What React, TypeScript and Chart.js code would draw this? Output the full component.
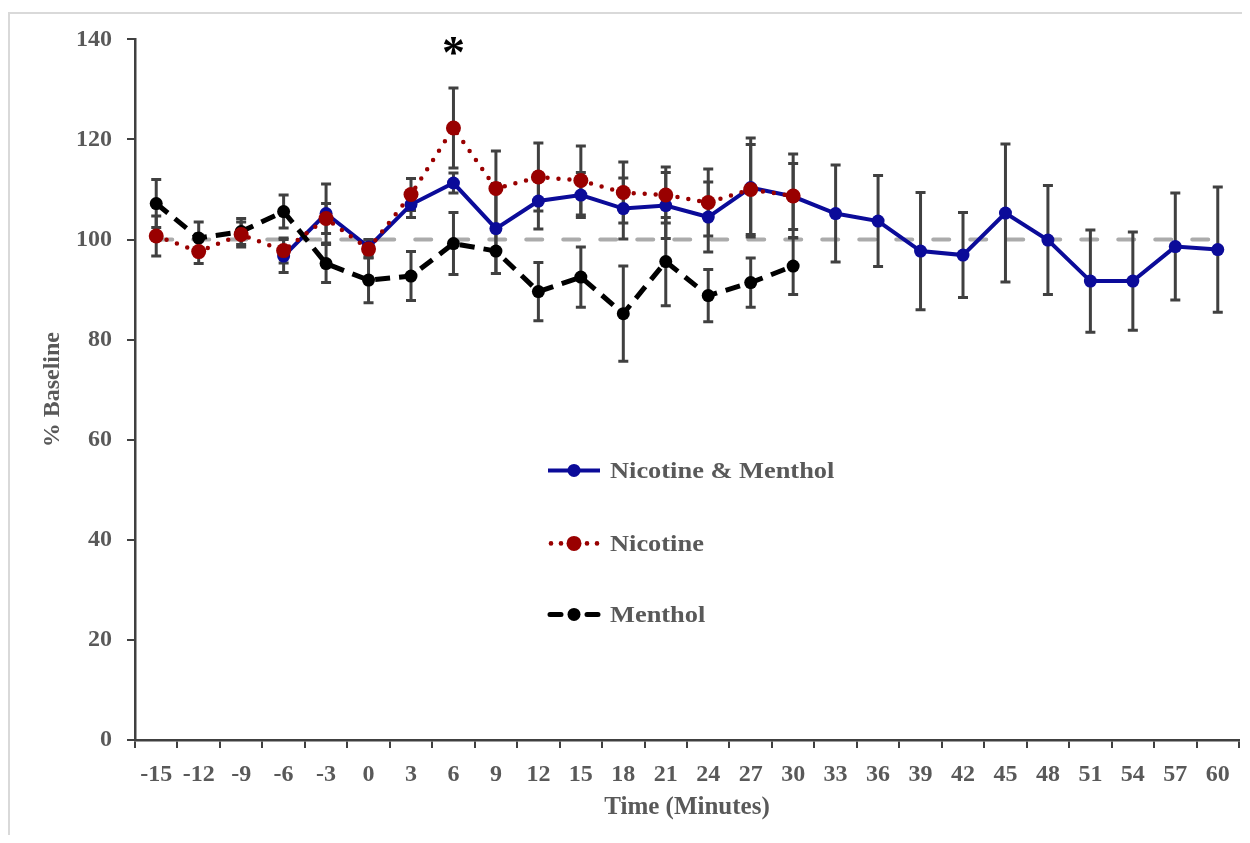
import React, { useEffect, useRef } from "react";
import { Chart, registerables } from "chart.js";

Chart.register(...registerables);

// ---- Data ----
const times = ["-15", "-12", "-9", "-6", "-3", "0", "3", "6", "9", "12", "15", "18", "21", "24", "27", "30", "33", "36", "39", "42", "45", "48", "51", "54", "57", "60"];

const nicMenthol = [null, null, null, 96.7, 105.2, 98.5, 107.0, 111.3, 102.2, 107.7, 108.9, 106.2, 106.8, 104.5, 110.4, 108.6, 105.2, 103.7, 97.7, 96.9, 105.3, 99.9, 91.7, 91.7, 98.6, 98.0];
const nicMentholErr = [null, null, null, 3.3, 5.9, 1.5, 2.6, 2.0, 9.0, 5.6, 4.5, 6.1, 6.6, 7.0, 9.9, 6.6, 9.7, 9.1, 11.7, 8.5, 13.8, 10.9, 10.2, 9.8, 10.7, 12.5];

const nicotine = [100.7, 97.6, 101.0, 97.8, 104.2, 98.1, 109.0, 122.3, 110.2, 112.5, 111.8, 109.4, 108.9, 107.4, 110.0, 108.7, null, null, null, null, null, null, null, null, null, null];
const nicotineErr = [4.0, 2.4, 2.5, 2.5, 3.0, 1.8, 3.2, 8.0, 7.5, 6.8, 6.9, 6.1, 5.6, 6.7, 9.0, 8.4, null, null, null, null, null, null, null, null, null, null];

const menthol = [107.2, 100.3, 101.6, 105.6, 95.2, 91.9, 92.7, 99.2, 97.7, 89.6, 92.5, 85.2, 95.6, 88.8, 91.4, 94.7, null, null, null, null, null, null, null, null, null, null];
const mentholErr = [4.8, 3.2, 2.6, 3.3, 3.8, 4.5, 4.9, 6.2, 4.5, 5.8, 6.0, 9.5, 8.8, 5.2, 4.9, 5.7, null, null, null, null, null, null, null, null, null, null];

const baseline = times.map(() => 100);

const yTicksMin = 0;
const yTicksMax = 140;
const yTicksStep = 20;

const starCategory = "6";
const starValue = 138.5;

const legendLabels = ["Nicotine & Menthol", "Nicotine", "Menthol"];

// ---- Styles ----
const FONT = '"Liberation Serif", "Times New Roman", serif';
const TEXT_GRAY = "#595959";
const AXIS_GRAY = "#404040";
const BLUE = "#0B0B99";
const RED = "#990000";
const BLACK = "#000000";

const errorBarPlugin = {
  id: "errorBars",
  afterDatasetDraw(chart: any, args: any) {
    if (args.index !== 3) return;
    const ctx = chart.ctx;
    const xs = chart.scales.x;
    const ys = chart.scales.y;
    ctx.save();
    ctx.strokeStyle = AXIS_GRAY;
    ctx.lineWidth = 3;
    chart.data.datasets.forEach((ds: any) => {
      const errs = ds.errors;
      if (!errs) return;
      ds.data.forEach((v: any, i: number) => {
        if (v == null || errs[i] == null) return;
        const px = xs.getPixelForValue(i);
        const yTop = ys.getPixelForValue(v + errs[i]);
        const yBot = ys.getPixelForValue(v - errs[i]);
        ctx.beginPath();
        ctx.moveTo(px, yTop);
        ctx.lineTo(px, yBot);
        ctx.moveTo(px - 5, yTop);
        ctx.lineTo(px + 5, yTop);
        ctx.moveTo(px - 5, yBot);
        ctx.lineTo(px + 5, yBot);
        ctx.stroke();
      });
    });
    ctx.restore();
  },
};

const annotationPlugin = {
  id: "annot",
  afterDraw(chart: any) {
    const ctx = chart.ctx;
    const xs = chart.scales.x;
    const ys = chart.scales.y;
    const area = chart.chartArea;
    ctx.save();
    // asterisk
    ctx.fillStyle = "#000";
    ctx.font = `bold 46px ${FONT}`;
    ctx.textAlign = "center";
    ctx.textBaseline = "middle";
    ctx.fillText("*", xs.getPixelForValue(times.indexOf(starCategory)), ys.getPixelForValue(starValue) + 9);

    // legend
    const lx0 = area.left + 413;
    const lx1 = lx0 + 52;
    const cx = (lx0 + lx1) / 2;
    const rows = [area.top + 431, area.top + 504, area.top + 575];
    const colors = [BLUE, RED, BLACK];
    rows.forEach((ry, k) => {
      ctx.strokeStyle = colors[k];
      ctx.fillStyle = colors[k];
      if (k === 0) {
        ctx.lineWidth = 4;
        ctx.beginPath();
        ctx.moveTo(lx0, ry);
        ctx.lineTo(lx1, ry);
        ctx.stroke();
      } else if (k === 1) {
        [lx0 + 3, lx0 + 13, lx1 - 13, lx1 - 3].forEach((dx) => {
          ctx.beginPath();
          ctx.arc(dx, ry, 2.3, 0, Math.PI * 2);
          ctx.fill();
        });
      } else {
        ctx.lineWidth = 5;
        ctx.lineCap = "round";
        ctx.beginPath();
        ctx.moveTo(lx0 + 2, ry);
        ctx.lineTo(lx0 + 13, ry);
        ctx.moveTo(lx1 - 13, ry);
        ctx.lineTo(lx1 - 2, ry);
        ctx.stroke();
        ctx.lineCap = "butt";
      }
      ctx.beginPath();
      ctx.arc(cx, ry, k === 1 ? 7.5 : 6.5, 0, Math.PI * 2);
      ctx.fill();
      ctx.save();
      ctx.translate(lx1 + 10, ry);
      ctx.scale(1.1, 1);
      ctx.fillStyle = TEXT_GRAY;
      ctx.font = `bold 24px ${FONT}`;
      ctx.textAlign = "left";
      ctx.textBaseline = "middle";
      ctx.fillText(legendLabels[k], 0, 1);
      ctx.restore();
    });
    ctx.restore();
  },
};

export default function App() {
  const ref = useRef<HTMLCanvasElement | null>(null);
  useEffect(() => {
    if (!ref.current) return;
    const chart = new Chart(ref.current, {
      type: "line",
      data: {
        labels: times,
        datasets: [
          {
            label: legendLabels[1],
            data: nicotine,
            errors: nicotineErr,
            borderColor: RED,
            backgroundColor: RED,
            borderWidth: 4.5,
            borderDash: [0, 11],
            borderCapStyle: "round",
            pointRadius: 7.5,
            pointBorderWidth: 0,
            pointBackgroundColor: RED,
            tension: 0,
          } as any,
          {
            label: legendLabels[2],
            data: menthol,
            errors: mentholErr,
            borderColor: BLACK,
            backgroundColor: BLACK,
            borderWidth: 5,
            borderDash: [15, 9],
            pointRadius: 6.5,
            pointBorderWidth: 0,
            pointBackgroundColor: BLACK,
            tension: 0,
          } as any,
          {
            label: legendLabels[0],
            data: nicMenthol,
            errors: nicMentholErr,
            borderColor: BLUE,
            backgroundColor: BLUE,
            borderWidth: 4,
            pointRadius: 6.5,
            pointBorderWidth: 0,
            pointBackgroundColor: BLUE,
            tension: 0,
          } as any,
          {
            label: "Baseline",
            data: baseline,
            borderColor: "#ABABAB",
            borderWidth: 4,
            borderDash: [16, 21],
            borderCapStyle: "round",
            pointRadius: 0,
            tension: 0,
          } as any,
        ],
      },
      options: {
        responsive: false,
        animation: false,
        devicePixelRatio: 1,
        layout: { padding: { top: 24, right: 11, left: 0, bottom: 0 } },
        plugins: {
          legend: { display: false },
          tooltip: { enabled: false },
        },
        scales: {
          x: {
            type: "category",
            offset: true,
            grid: {
              offset: true,
              drawOnChartArea: false,
              drawTicks: true,
              tickLength: 8,
              tickColor: AXIS_GRAY,
              lineWidth: 2,
            },
            border: { color: AXIS_GRAY, width: 2.5 },
            ticks: {
              autoSkip: false,
              maxRotation: 0,
              color: TEXT_GRAY,
              padding: 12,
              font: { family: FONT, weight: "bold", size: 24 },
            },
            title: {
              display: true,
              text: "Time (Minutes)",
              color: TEXT_GRAY,
              font: { family: FONT, weight: "bold", size: 25 },
              padding: { top: 0, bottom: 12 },
            },
            afterFit: (s: any) => {
              s.height = 95;
            },
          },
          y: {
            min: yTicksMin,
            max: yTicksMax,
            grid: {
              drawOnChartArea: false,
              drawTicks: true,
              tickLength: 8,
              tickColor: AXIS_GRAY,
              lineWidth: 2,
            },
            border: { color: AXIS_GRAY, width: 2.5 },
            ticks: {
              stepSize: yTicksStep,
              color: TEXT_GRAY,
              padding: 15,
              font: { family: FONT, weight: "bold", size: 24 },
            },
            title: {
              display: true,
              text: "% Baseline",
              color: TEXT_GRAY,
              font: { family: FONT, weight: "bold", size: 24 },
              padding: { top: 30, bottom: 0 },
            },
            afterFit: (s: any) => {
              s.width = 127;
            },
          },
        },
      },
      plugins: [errorBarPlugin, annotationPlugin],
    } as any);
    return () => chart.destroy();
  }, []);

  return (
    <div style={{ position: "relative", width: 1242, height: 823, marginTop: 4 }}>
      <canvas ref={ref} width={1242} height={825} style={{ position: "absolute", left: 0, top: -2 }} />
      <div
        style={{
          position: "absolute",
          left: 0,
          top: 0,
          right: 0,
          bottom: 0,
          borderTop: "2px solid #D9D9D9",
          borderLeft: "2px solid #D9D9D9",
          pointerEvents: "none",
        }}
      />
    </div>
  );
}
